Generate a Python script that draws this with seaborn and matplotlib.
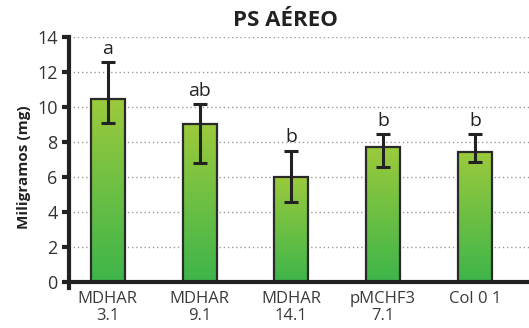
import numpy as np
import pandas as pd
import matplotlib
matplotlib.use("Agg")
import matplotlib.pyplot as plt
import seaborn as sns
from matplotlib.colors import LinearSegmentedColormap

# Dry weight of the aerial part per line
lines = ["MDHAR\n3.1", "MDHAR\n9.1", "MDHAR\n14.1", "pMCHF3\n7.1", "Col 0 1"]
means = [10.47, 9.04, 6.03, 7.73, 7.46]
err_upper = [12.59, 10.20, 7.52, 8.46, 8.46]
err_lower = [9.10, 6.82, 4.59, 6.57, 6.86]
letters = ["a", "ab", "b", "b", "b"]
y_ticks = [0, 2, 4, 6, 8, 10, 12, 14]

df = pd.DataFrame({"linea": lines, "peso": means})

sns.set_theme(style="white")
plt.rcParams["font.family"] = ["Open Sans", "DejaVu Sans"]

fig = plt.figure(figsize=(5.29, 3.28), dpi=100)
ax = fig.add_axes([0.130, 0.122, 0.870, 0.764])

sns.barplot(data=df, x="linea", y="peso", ax=ax, width=0.37,
            color="#7cc242", edgecolor="#2a2a2a", linewidth=1.6,
            errorbar=None, zorder=3)

# vertical green gradient inside each bar
grad_cmap = LinearSegmentedColormap.from_list("verde", ["#3db54a", "#9cca3c"])
grad = np.linspace(0, 1, 256).reshape(-1, 1)
for p in ax.patches:
    x0, y0 = p.get_x(), p.get_y()
    w, h = p.get_width(), p.get_height()
    im = ax.imshow(grad, cmap=grad_cmap, origin="lower", aspect="auto",
                   extent=[x0, x0 + w, y0, y0 + h], zorder=2.5)
    im.set_clip_path(p)
    p.set_facecolor("none")
ax.set_xlim(-0.425, 4.59)
ax.set_ylim(-0.35, 14)

# asymmetric error bars
xs = np.arange(len(lines))
yerr = np.array([np.array(means) - np.array(err_lower),
                 np.array(err_upper) - np.array(means)])
ax.errorbar(xs, means, yerr=yerr, fmt="none", ecolor="#222222",
            elinewidth=2.2, capsize=5, capthick=2.2, zorder=4)

# significance letters
for x, top, lab in zip(xs, err_upper, letters):
    ax.annotate(lab, (x, top), xytext=(0, 3), textcoords="offset points",
                ha="center", va="bottom", fontsize=14, color="#222222")

# dotted grid lines
for y in y_ticks[1:]:
    ax.axhline(y, color="#9a9a9a", linestyle=(0, (1, 2)), lw=1.0, zorder=1)
ax.axhline(0, color="#222222", lw=3, zorder=5, solid_capstyle="butt")

for s in ["top", "right", "bottom"]:
    ax.spines[s].set_visible(False)
ax.spines["left"].set_linewidth(3)
ax.spines["left"].set_color("#222222")
ax.spines["left"].set_zorder(6)

ax.set_yticks(y_ticks)
ax.tick_params(axis="y", direction="out", length=5, width=3, color="#222222",
               labelsize=13, labelcolor="#333333", pad=3, left=True)
ax.tick_params(axis="x", length=0, labelsize=12, labelcolor="#3a3a3a", pad=2)
for t in ax.get_xticklabels():
    t.set_linespacing(1.1)
ax.set_xlabel("")
ax.set_ylabel("")

fig.text(0.539, 0.921, "PS AÉREO", ha="center", va="baseline",
         fontsize=16, fontweight="bold", color="#222222")
fig.text(0.045, 0.49, "Miligramos (mg)", ha="center", va="center",
         rotation=90, fontsize=11, fontweight="bold", color="#222222")

fig.savefig("out.png", dpi=100)
